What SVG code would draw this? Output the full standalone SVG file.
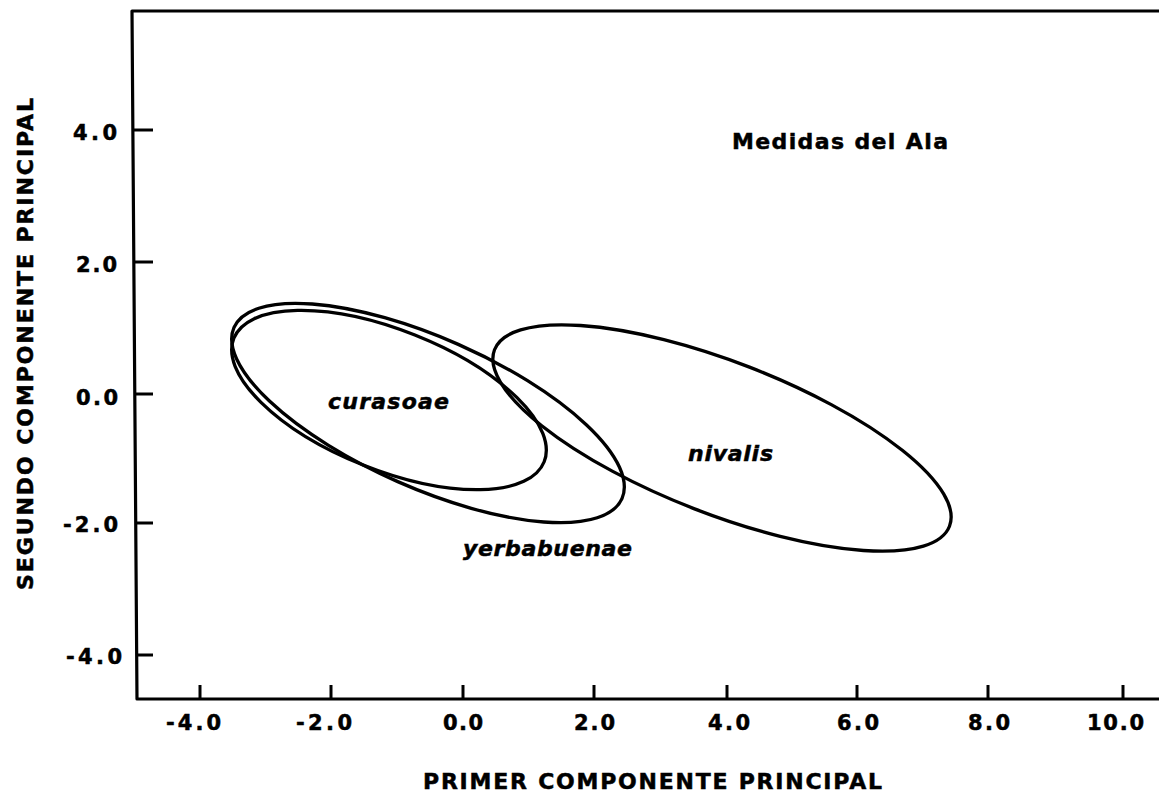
<svg xmlns="http://www.w3.org/2000/svg" width="1159" height="792" viewBox="0 0 1159 792">
<style>
.ax{stroke:#000;stroke-width:3.2;fill:none;stroke-linecap:square;stroke-linejoin:round}
.tk{stroke:#000;stroke-width:3;fill:none}
.el{stroke:#000;stroke-width:3.3;fill:none}
.lb,.tt,.sp{font-family:"DejaVu Sans","Liberation Sans",sans-serif;font-weight:bold;fill:#000;stroke:#000;stroke-width:0.5}
.lb{font-size:21px}
.tt{font-size:22px}
.sp{font-style:italic;font-size:22px}
</style>
<rect width="1159" height="792" fill="#fff"/>
<g id="axes">
<path class="ax" d="M1159,11 L132,11 L137,699 L1159,699"/>
<g id="yticks">
<line class="tk" x1="133" y1="130" x2="153" y2="130"/>
<line class="tk" x1="134" y1="262" x2="153" y2="262"/>
<line class="tk" x1="135" y1="394" x2="153" y2="394"/>
<line class="tk" x1="136" y1="523" x2="153" y2="523"/>
<line class="tk" x1="137" y1="655" x2="153" y2="655"/>
</g>
<g id="xticks">
<line class="tk" x1="200" y1="699" x2="200" y2="685"/>
<line class="tk" x1="331" y1="699" x2="331" y2="685"/>
<line class="tk" x1="463" y1="699" x2="463" y2="685"/>
<line class="tk" x1="594" y1="699" x2="594" y2="685"/>
<line class="tk" x1="727" y1="699" x2="727" y2="685"/>
<line class="tk" x1="857" y1="699" x2="857" y2="685"/>
<line class="tk" x1="988" y1="699" x2="988" y2="685"/>
<line class="tk" x1="1123" y1="699" x2="1123" y2="685"/>
</g>
<g id="ylabels">
<text class="lb" x="117" y="140" text-anchor="end" textLength="44" lengthAdjust="spacing">4.0</text>
<text class="lb" x="117" y="272" text-anchor="end" textLength="41" lengthAdjust="spacing">2.0</text>
<text class="lb" x="118" y="405" text-anchor="end" textLength="42" lengthAdjust="spacing">0.0</text>
<text class="lb" x="118" y="532" text-anchor="end" textLength="55" lengthAdjust="spacing">-2.0</text>
<text class="lb" x="122" y="664" text-anchor="end" textLength="56" lengthAdjust="spacing">-4.0</text>
</g>
<g id="xlabels">
<text class="lb" x="166" y="730" textLength="55" lengthAdjust="spacing">-4.0</text>
<text class="lb" x="296" y="730" textLength="56" lengthAdjust="spacing">-2.0</text>
<text class="lb" x="443" y="730" textLength="40" lengthAdjust="spacing">0.0</text>
<text class="lb" x="574" y="730" textLength="41" lengthAdjust="spacing">2.0</text>
<text class="lb" x="708" y="730" textLength="42" lengthAdjust="spacing">4.0</text>
<text class="lb" x="837" y="730" textLength="42" lengthAdjust="spacing">6.0</text>
<text class="lb" x="968" y="730" textLength="42" lengthAdjust="spacing">8.0</text>
<text class="lb" x="1087" y="730" textLength="57" lengthAdjust="spacing">10.0</text>
</g>
<text id="xtitle" class="tt" x="423" y="789" font-size="23" textLength="459" lengthAdjust="spacing">PRIMER COMPONENTE PRINCIPAL</text>
<text id="ytitle" class="tt" transform="translate(33,590) rotate(-90)" x="0" y="0" textLength="492" lengthAdjust="spacing">SEGUNDO COMPONENTE PRINCIPAL</text>
</g>
<text id="title" class="tt" x="732" y="149" textLength="216" lengthAdjust="spacing">Medidas del Ala</text>
<g id="curasoae">
<ellipse class="el" cx="389" cy="400" rx="167" ry="70" transform="rotate(21.7 389 400)"/>
<text class="sp" x="328" y="409" textLength="121" lengthAdjust="spacing">curasoae</text>
</g>
<g id="yerbabuenae">
<ellipse class="el" cx="428" cy="413" rx="212" ry="75" transform="rotate(23.8 428 413)"/>
<text class="sp" x="463" y="556" textLength="169" lengthAdjust="spacing">yerbabuenae</text>
</g>
<g id="nivalis">
<ellipse class="el" cx="722" cy="438" rx="244" ry="76" transform="rotate(21.2 722 438)"/>
<text class="sp" x="688" y="461" textLength="85" lengthAdjust="spacing">nivalis</text>
</g>
</svg>
